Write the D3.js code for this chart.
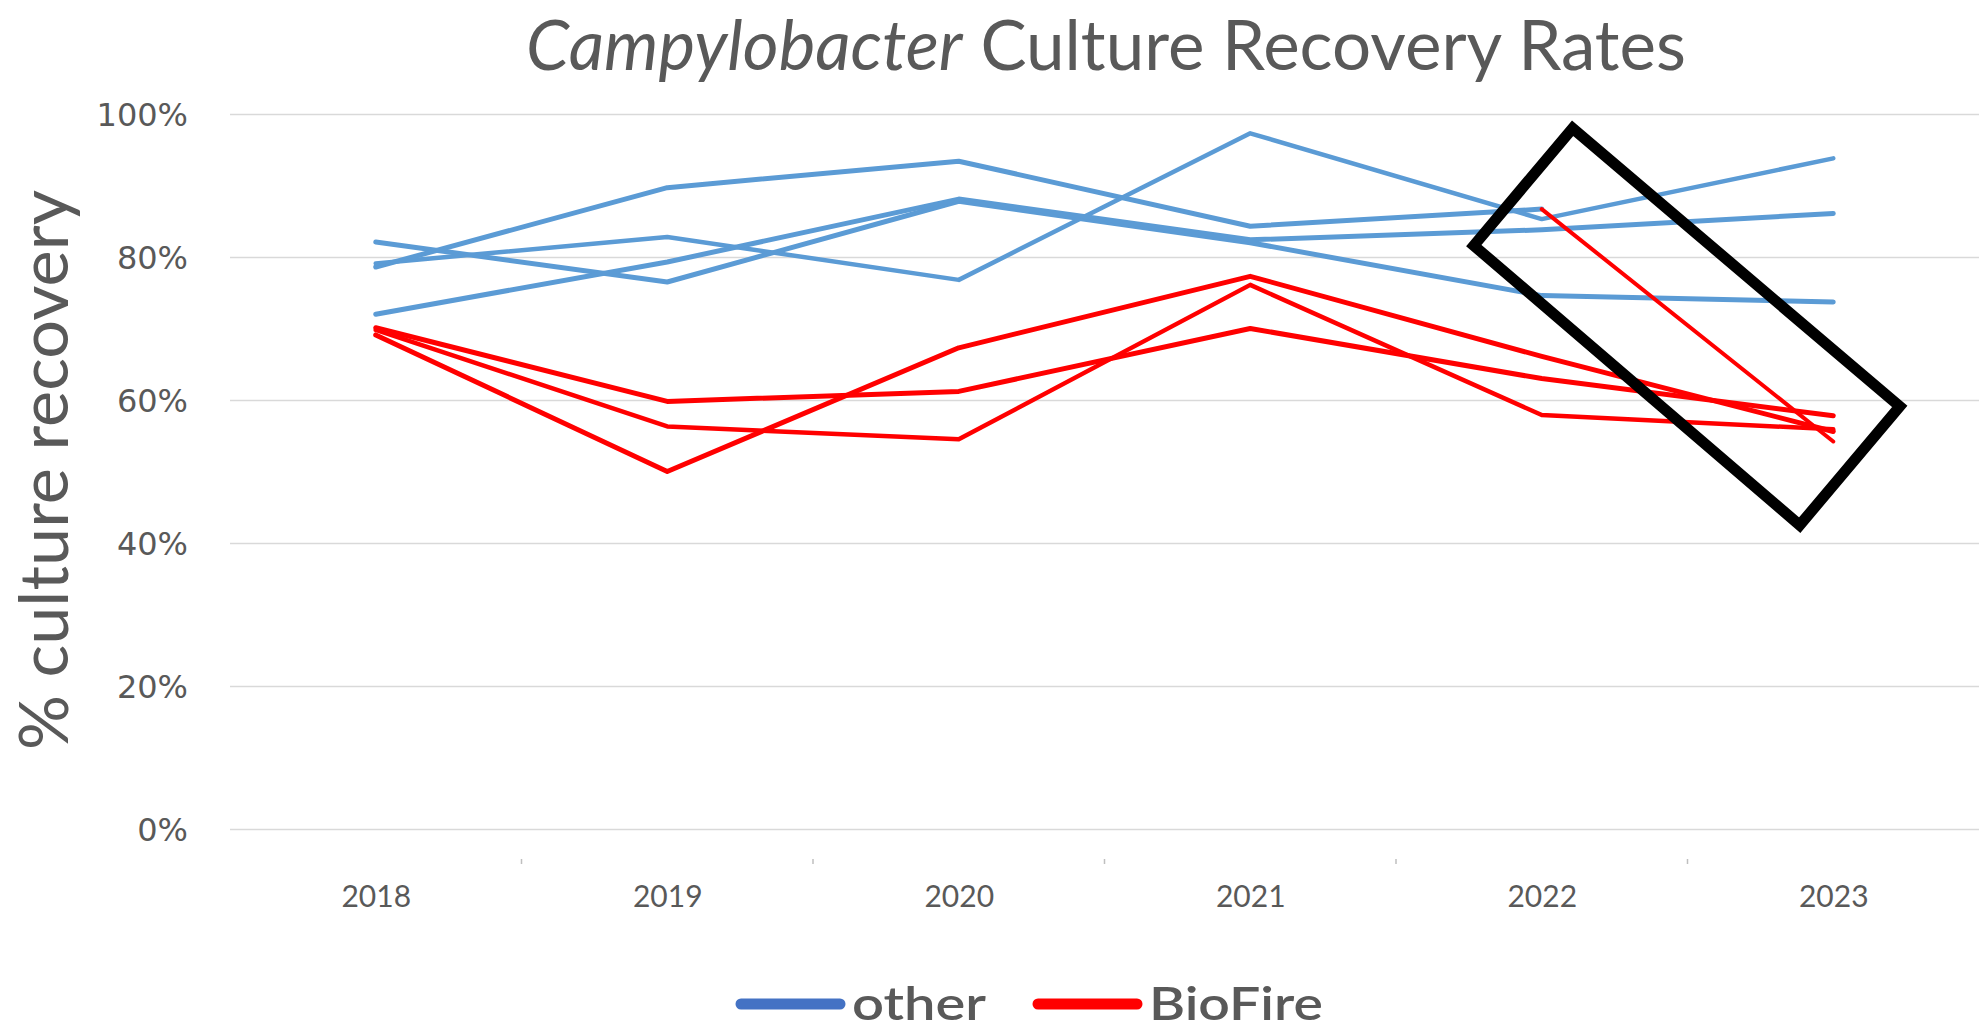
<!DOCTYPE html>
<html><head><meta charset="utf-8">
<script src="https://cdn.jsdelivr.net/npm/d3@7"></script>
<style>body{margin:0;background:#fff}svg{display:block}</style>
</head><body><svg id="c" width="1985" height="1032"></svg>
<script>
// ---- data ----
const years = [2018, 2019, 2020, 2021, 2022, 2023];
const other1 = [82.1, 76.5, 87.8, 82.0, 74.6, 73.7];
const other2 = [78.6, 89.7, 93.4, 84.3, 86.7, null];
const other3 = [79.1, 82.8, 76.8, 97.3, 85.3, 93.8];
const other4 = [72.0, 79.3, 88.1, 82.4, 83.8, 86.1];
const biofire1 = [70.1, 59.8, 61.2, 70.0, 63.0, 57.8];
const biofire2 = [69.8, 56.3, 54.5, 76.1, 57.9, 55.9];
const biofire3 = [69.1, 50.0, 67.3, 77.3, 66.1, 55.6];
const biofire4 = [null, null, null, null, 86.7, 54.2];
const yTicks = [0, 20, 40, 60, 80, 100];
const legendLabels = ["other", "BioFire"];
const titleParts = ["Campylobacter", "Culture Recovery Rates"];
// highlight box corners in data units: [year position, % value]
const highlightBox = [[2022.106, 98.0], [2021.767, 81.6], [2022.885, 42.5], [2023.228, 59.1]];

(function draw() {
const svg = d3.select("#c");
const pLeft = 230, pRight = 1979, pTop = 114, pBottom = 829;
const BLUE = "#5B9BD5", RED = "#FF0000", GRAY = "#595959";

const x = d3.scalePoint().domain(years).range([pLeft, pRight]).padding(0.5);
const y = d3.scaleLinear().domain([0, 100]).range([pBottom, pTop]);
const xLin = d3.scaleLinear().domain([years[0], years[years.length - 1]])
  .range([x(years[0]), x(years[years.length - 1])]);

// gridlines
const grid = svg.append("g").attr("transform", `translate(${pLeft},0)`)
  .call(d3.axisLeft(y).tickValues(yTicks).tickSize(-(pRight - pLeft)).tickFormat(""));
grid.select(".domain").remove();
grid.selectAll("line").attr("stroke", "#D9D9D9").attr("stroke-width", 1.5);

// y labels
const yAx = svg.append("g").attr("transform", "translate(188,0)")
  .call(d3.axisLeft(y).tickValues(yTicks).tickSize(0).tickPadding(0).tickFormat(d => d + "%"));
yAx.select(".domain").remove();
yAx.selectAll("text").attr("fill", GRAY).attr("font-family", "DejaVu Sans")
  .attr("font-size", 32).attr("dy", "0.36em");

// x labels
const xAx = svg.append("g").attr("transform", "translate(0,907)")
  .call(d3.axisBottom(x).tickSize(0).tickFormat(d => String(d)));
xAx.select(".domain").remove();
xAx.selectAll("text").attr("y", 0).attr("dy", 0).attr("fill", GRAY)
  .attr("font-family", "Lato").attr("font-size", 30);

// small tick marks between categories
svg.append("g").selectAll("line").data(years.slice(1)).join("line")
  .attr("x1", d => x(d) - x.step() / 2).attr("x2", d => x(d) - x.step() / 2)
  .attr("y1", 859).attr("y2", 864).attr("stroke", "#BFBFBF").attr("stroke-width", 1.5);

// lines
const line = d3.line().defined(d => d[1] != null).x(d => x(d[0])).y(d => y(d[1]));
const series = [
  {v: other1, c: BLUE, w: 5}, {v: other2, c: BLUE, w: 5},
  {v: other3, c: BLUE, w: 4.5}, {v: other4, c: BLUE, w: 5},
  {v: biofire1, c: RED, w: 5}, {v: biofire2, c: RED, w: 4.5},
  {v: biofire3, c: RED, w: 5}, {v: biofire4, c: RED, w: 4}
];
svg.append("g").selectAll("path").data(series).join("path")
  .attr("d", s => line(years.map((yr, i) => [yr, s.v[i]])))
  .attr("fill", "none").attr("stroke", s => s.c).attr("stroke-width", s => s.w)
  .attr("stroke-linejoin", "round").attr("stroke-linecap", "round");

// highlight box
svg.append("path")
  .attr("d", d3.line().x(d => xLin(d[0])).y(d => y(d[1])).curve(d3.curveLinearClosed)(highlightBox))
  .attr("fill", "none").attr("stroke", "#000").attr("stroke-width", 11).attr("stroke-linejoin", "miter");

function fit(sel, target) {
  const w = sel.node().getComputedTextLength();
  const fs = parseFloat(sel.attr("font-size"));
  sel.attr("font-size", fs * target / w);
}

// title: two texts (italic genus + regular rest), laid out side by side
const tY = 70, tCenter = 1106, tTarget = 1160;
const t1 = svg.append("text").attr("y", tY).attr("font-family", "Lato").attr("font-size", 60)
  .attr("font-style", "italic").attr("fill", GRAY).text(titleParts[0]);
const t2 = svg.append("text").attr("y", tY).attr("font-family", "Lato").attr("font-size", 60)
  .attr("fill", GRAY).text(titleParts[1]);
let w1 = t1.node().getComputedTextLength(), w2 = t2.node().getComputedTextLength();
const k = tTarget / (w1 + w2 + 0.26 * 60);
const tSize = 60 * k;
t1.attr("font-size", tSize); t2.attr("font-size", tSize);
w1 = t1.node().getComputedTextLength(); w2 = t2.node().getComputedTextLength();
const gap = 0.26 * tSize;
const startX = tCenter - (w1 + gap + w2) / 2;
t1.attr("x", startX);
t2.attr("x", startX + w1 + gap);

// y axis title
const yt = svg.append("text").attr("transform", "translate(68,470) rotate(-90)")
  .attr("text-anchor", "middle").attr("font-family", "Lato").attr("font-size", 70)
  .attr("fill", GRAY).text("% culture recovery");
fit(yt, 560);

// legend
const legend = [
  {label: legendLabels[0], c: "#4472C4", x1: 741, x2: 840, tx: 852, tw: 134},
  {label: legendLabels[1], c: RED, x1: 1038, x2: 1137, tx: 1149, tw: 174}
];
legend.forEach(l => {
  svg.append("line").attr("x1", l.x1).attr("x2", l.x2).attr("y1", 1004).attr("y2", 1004)
    .attr("stroke", l.c).attr("stroke-width", 11).attr("stroke-linecap", "round");
  svg.append("text").attr("x", l.tx).attr("y", 1020).attr("font-family", "Lato")
    .attr("font-weight", 600).attr("font-size", 46).attr("fill", GRAY)
    .attr("textLength", l.tw).attr("lengthAdjust", "spacingAndGlyphs").text(l.label);
});
})();
</script></body></html>
